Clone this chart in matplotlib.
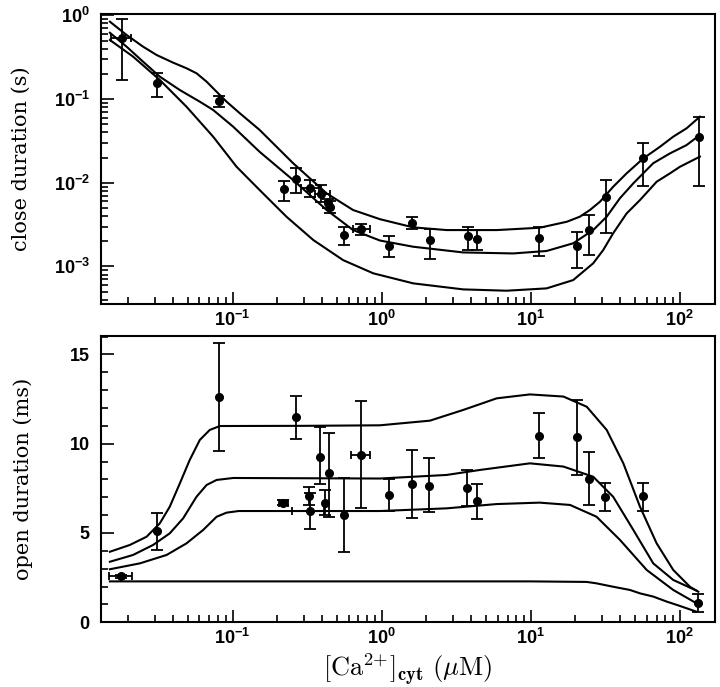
import numpy as np
import matplotlib
matplotlib.use("Agg")
import matplotlib.pyplot as plt
from matplotlib.ticker import LogLocator, MultipleLocator, LogFormatterSciNotation, NullFormatter

# ---- close duration (s), top panel ----
close_x = [0.0182, 0.031, 0.0805, 0.223, 0.268, 0.33, 0.392, 0.438, 0.45, 0.558, 0.731,
           1.13, 1.60, 2.11, 3.78, 4.38, 11.4, 20.6, 24.7, 32.2, 57.0, 134.6]
close_y = [0.53, 0.157, 0.0946, 0.00834, 0.0112, 0.0087, 0.0073, 0.0057, 0.0052, 0.0024, 0.00277,
           0.00177, 0.00333, 0.00207, 0.00231, 0.00212, 0.0022, 0.00177, 0.00272, 0.0067, 0.0195, 0.0355]
close_lo = [0.169, 0.107, 0.081, 0.0061, 0.0075, 0.0067, 0.0059, 0.0050, 0.0043, 0.0018, 0.0024,
            0.0013, 0.0028, 0.00123, 0.00157, 0.00157, 0.00133, 0.00095, 0.00137, 0.00248, 0.0092, 0.0092]
close_hi = [0.90, 0.206, 0.109, 0.0105, 0.0152, 0.0108, 0.0094, 0.0064, 0.0060, 0.0030, 0.0032,
            0.0023, 0.0039, 0.0028, 0.0030, 0.0027, 0.0030, 0.0026, 0.0041, 0.0108, 0.0296, 0.0615]
# points with horizontal error bars: (index, x low, x high)
close_xerr = [(0, 0.0153, 0.0209), (5, 0.29, 0.38), (6, 0.36, 0.45), (10, 0.64, 0.83)]

close_fit_hi_x = [0.01503, 0.01945, 0.0251, 0.0309, 0.0399, 0.0491, 0.0573, 0.0670, 0.0782, 0.0912,
                  0.112, 0.152, 0.255, 0.428, 0.644, 0.975, 1.63, 2.73, 5.92, 11.5, 17.5, 21.4, 25.0,
                  29.2, 35.8, 44.1, 57.0, 73.8, 90.6, 111.4, 136.8]
close_fit_hi_y = [0.839, 0.582, 0.422, 0.336, 0.272, 0.233, 0.203, 0.161, 0.122, 0.0929,
                  0.0675, 0.0427, 0.0171, 0.00746, 0.00472, 0.00367, 0.00293, 0.00272, 0.00272, 0.0029,
                  0.00342, 0.00393, 0.00472, 0.00593, 0.00895, 0.01295, 0.0195, 0.0269, 0.0355, 0.0447, 0.0615]
close_fit_mid_x = [0.01503, 0.01945, 0.0251, 0.0325, 0.0443, 0.0603, 0.0741, 0.101, 0.152, 0.255,
                   0.428, 0.644, 0.975, 1.63, 3.53, 7.64, 12.8, 19.3, 26.3, 32.4, 39.7, 48.9, 66.5,
                   86.1, 111.4, 136.8]
close_fit_mid_y = [0.619, 0.422, 0.279, 0.185, 0.128, 0.0929, 0.0740, 0.0467, 0.0234, 0.01076,
                   0.00472, 0.00272, 0.00204, 0.00172, 0.00147, 0.00143, 0.00153, 0.00189, 0.00272,
                   0.00393, 0.00651, 0.00984, 0.0171, 0.0224, 0.0282, 0.0372]
close_fit_lo_x = [0.01503, 0.0215, 0.0325, 0.0491, 0.0741, 0.1064, 0.152, 0.230, 0.348, 0.552,
                  0.879, 1.63, 3.53, 6.90, 12.8, 19.3, 26.3, 30.7, 35.8, 44.1, 54.2, 70.1, 86.1,
                  100.5, 136.8]
close_fit_lo_y = [0.507, 0.321, 0.169, 0.0809, 0.0355, 0.01552, 0.00818, 0.00393, 0.00207, 0.00119,
                  0.000828, 0.000628, 0.000532, 0.000513, 0.000547, 0.000687, 0.00109, 0.00157,
                  0.00249, 0.0043, 0.00621, 0.01028, 0.01294, 0.01552, 0.0205]

# ---- open duration (ms), bottom panel ----
open_x = [0.0178, 0.031, 0.0805, 0.219, 0.267, 0.327, 0.33, 0.389, 0.42, 0.445, 0.558, 0.723,
          1.125, 1.59, 2.09, 3.76, 4.34, 11.3, 20.4, 24.5, 31.8, 56.5, 133.0]
open_y = [2.57, 5.09, 12.63, 6.70, 11.48, 7.07, 6.25, 9.27, 6.66, 8.38, 6.01, 9.37,
          7.13, 7.73, 7.65, 7.52, 6.79, 10.43, 10.36, 8.04, 7.03, 7.09, 1.10]
open_lo = [2.47, 4.05, 9.61, 6.55, 10.28, 6.57, 5.21, 7.74, 6.01, 5.88, 3.92, 6.38,
           6.25, 5.82, 6.19, 6.51, 5.76, 9.20, 8.25, 6.59, 6.22, 6.22, 0.60]
open_hi = [2.67, 6.14, 15.62, 6.85, 12.67, 7.59, 7.22, 10.95, 7.41, 10.58, 8.10, 12.39,
           8.02, 9.65, 9.18, 8.53, 7.74, 11.70, 12.45, 9.53, 7.80, 7.80, 1.59]
open_xerr = [(0, 0.0149, 0.021), (3, 0.205, 0.235), (6, 0.25, 0.41), (11, 0.62, 0.83)]

open_fit_a_x = [0.01503, 0.02046, 0.02649, 0.0325, 0.0379, 0.0443, 0.0516, 0.0603, 0.0703, 0.0822,
                0.3, 0.975, 2.11, 3.53, 5.92, 9.89, 16.6, 23.8, 32.4, 41.9, 54.2, 70.1, 90.6, 117.2, 133.4]
open_fit_a_y = [3.95, 4.33, 4.79, 5.54, 6.47, 7.78, 9.09, 10.21, 10.77, 10.99,
                11.0, 11.03, 11.29, 11.89, 12.54, 12.76, 12.64, 12.07, 10.77, 8.9, 6.47, 4.42, 2.93, 1.99, 1.71]
open_fit_b_x = [0.01503, 0.0215, 0.0293, 0.0379, 0.0466, 0.0573, 0.0670, 0.0782, 0.101, 0.975,
                2.73, 4.57, 9.89, 16.6, 26.3, 35.8, 48.9, 66.5, 90.6, 130.0]
open_fit_b_y = [3.39, 3.77, 4.33, 4.98, 5.82, 7.03, 7.69, 7.97, 8.08, 8.05,
                8.25, 8.53, 8.9, 8.72, 8.15, 7.03, 5.17, 3.30, 2.37, 1.77]
open_fit_c_x = [0.01503, 0.0239, 0.0361, 0.0491, 0.0635, 0.0782, 0.0912, 0.11, 0.975, 2.73,
                5.92, 11.5, 18.4, 27.7, 39.8, 60.1, 90.6, 130.0]
open_fit_c_y = [2.97, 3.30, 3.77, 4.42, 5.17, 5.91, 6.14, 6.23, 6.23, 6.38,
                6.62, 6.70, 6.57, 5.91, 4.61, 2.93, 1.81, 1.06]
open_fit_d_x = [0.01503, 1.0, 10.0, 23.8, 27.7, 35.8, 46.4, 54.2, 66.5, 81.8, 100.0, 130.0]
open_fit_d_y = [2.29, 2.29, 2.29, 2.26, 2.18, 1.99, 1.81, 1.62, 1.44, 1.16, 0.92, 0.59]

tick_font = {'family': 'Liberation Sans', 'weight': 'bold', 'size': 13}

fig = plt.figure(figsize=(7.2, 6.87), dpi=100)
ax1 = fig.add_axes([0.140, 0.5575, 0.853, 0.4221])
ax2 = fig.add_axes([0.140, 0.0942, 0.853, 0.4167])


def draw_points(ax, x, y, lo, hi, xerr):
    x = np.array(x)
    y = np.array(y)
    yerr = [y - np.array(lo), np.array(hi) - y]
    ax.errorbar(x, y, yerr=yerr, fmt='o', color='k', ms=5.5, lw=1.3,
                capsize=4, capthick=1.3, zorder=3)
    for i, xl, xh in xerr:
        ax.errorbar([x[i]], [y[i]], xerr=[[x[i] - xl], [xh - x[i]]], fmt='none',
                    color='k', lw=1.3, capsize=3, capthick=1.3, zorder=3)


# top panel
for fx, fy in [(close_fit_hi_x, close_fit_hi_y), (close_fit_mid_x, close_fit_mid_y),
               (close_fit_lo_x, close_fit_lo_y)]:
    ax1.plot(fx, fy, color='k', lw=1.5)
draw_points(ax1, close_x, close_y, close_lo, close_hi, close_xerr)
ax1.set_xscale('log')
ax1.set_yscale('log')
ax1.set_xlim(0.01306, 172.6)
ax1.set_ylim(3.56e-4, 1.036)
ax1.yaxis.set_major_locator(LogLocator(base=10, numticks=10))
ax1.yaxis.set_minor_locator(LogLocator(base=10, subs=np.arange(2, 10), numticks=10))
ax1.yaxis.set_minor_formatter(NullFormatter())
ax1.set_ylabel('close duration (s)', family='DejaVu Serif', fontsize=15)
ax1.yaxis.set_label_coords(-0.114, 0.5)

# bottom panel
for fx, fy in [(open_fit_a_x, open_fit_a_y), (open_fit_b_x, open_fit_b_y),
               (open_fit_c_x, open_fit_c_y), (open_fit_d_x, open_fit_d_y)]:
    ax2.plot(fx, fy, color='k', lw=1.5)
draw_points(ax2, open_x, open_y, open_lo, open_hi, open_xerr)
ax2.set_xscale('log')
ax2.set_xlim(0.01306, 172.6)
ax2.set_ylim(0, 16.03)
ax2.yaxis.set_major_locator(MultipleLocator(5))
ax2.yaxis.set_minor_locator(MultipleLocator(1))
ax2.set_ylabel('open duration (ms)', family='DejaVu Serif', fontsize=15)
ax2.yaxis.set_label_coords(-0.111, 0.5)
ax2.set_xlabel(r'$[\mathrm{Ca}^{2{+}}]_{\mathbf{cyt}}\ (\mu\mathrm{M})$', fontsize=19,
               math_fontfamily='cm', va='top')
ax2.xaxis.set_label_coords(0.5, -0.100)

for ax in (ax1, ax2):
    ax.xaxis.set_major_locator(LogLocator(base=10, numticks=10))
    ax.xaxis.set_minor_locator(LogLocator(base=10, subs=np.arange(2, 10), numticks=10))
    ax.xaxis.set_major_formatter(LogFormatterSciNotation())
    ax.xaxis.set_minor_formatter(NullFormatter())
    ax.tick_params(which='both', direction='in', top=False, right=False, width=1.2)
    ax.tick_params(which='major', length=9)
    ax.tick_params(which='minor', length=5)
    ax.tick_params(axis='x', pad=4)
    ax.tick_params(axis='y', pad=8)
    for sp in ax.spines.values():
        sp.set_linewidth(1.5)
    for lab in ax.get_xticklabels() + ax.get_yticklabels():
        lab.set_fontproperties(tick_font)

fig.savefig('out.png', dpi=100)
